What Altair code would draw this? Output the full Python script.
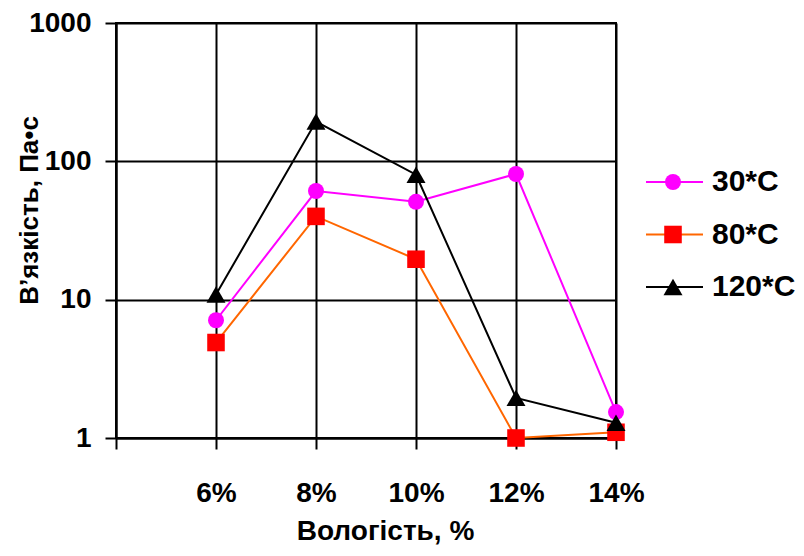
import altair as alt
import pandas as pd

moisture = [6, 8, 10, 12, 14]
series_names = ["30*C", "80*C", "120*C"]
visc_30 = [7.1, 61, 51, 81, 1.54]
visc_80 = [4.9, 40, 19.6, 1.0, 1.1]
visc_120 = [10.9, 194, 80, 1.95, 1.29]

line_colors = ["#FF00FF", "#FF6600", "#000000"]
marker_colors = ["#FF00FF", "#FF0000", "#000000"]
marker_shapes = ["circle", "square", "triangle-up"]
marker_sizes = [256, 361, 330]

rows = []
for name, vals in zip(series_names, [visc_30, visc_80, visc_120]):
    for m, v in zip(moisture, vals):
        rows.append({"series": name, "moisture": m, "visc": v})
df = pd.DataFrame(rows)
legend_df = pd.DataFrame({"series": series_names})

FONT = "Liberation Sans"

x_enc = alt.X(
    "moisture:Q",
    scale=alt.Scale(domain=[4, 14], nice=False, zero=False),
    axis=alt.Axis(
        values=[4, 6, 8, 10, 12, 14],
        labelExpr="datum.value == 4 ? '' : datum.value + '%'",
        title="Вологість, %",
        grid=True,
        tickSize=11,
        labelBaseline="alphabetic",
        labelPadding=52,
        labelFlush=False,
        labelOverlap=False,
        titleX=269,
        titleY=101,
        titleBaseline="alphabetic",
        titleAlign="center",
    ),
)
y_enc = alt.Y(
    "visc:Q",
    scale=alt.Scale(type="log", domain=[1, 1000], nice=False),
    axis=alt.Axis(
        values=[1, 10, 100, 1000],
        format="d",
        title="В’язкість, Па•с",
        grid=True,
        tickSize=11,
        labelPadding=14,
        labelFlush=False,
        labelOverlap=False,
        titleFontSize=26,
        titleX=-79,
        titleY=187,
        titleAngle=270,
        titleBaseline="alphabetic",
        titleAlign="center",
    ),
)
color_enc = alt.Color("series:N", scale=alt.Scale(domain=series_names, range=line_colors), legend=None)
fill_enc = alt.Fill("series:N", scale=alt.Scale(domain=series_names, range=marker_colors), legend=None)
shape_enc = alt.Shape("series:N", scale=alt.Scale(domain=series_names, range=marker_shapes), legend=None)
size_enc = alt.Size("series:O", scale=alt.Scale(domain=series_names, range=marker_sizes), legend=None)

lines = alt.Chart(df).mark_line(strokeWidth=2).encode(x=x_enc, y=y_enc, color=color_enc, detail="series:N")
points = alt.Chart(df).mark_point(filled=True, opacity=1, strokeWidth=0).encode(
    x=x_enc, y=y_enc, fill=fill_enc, shape=shape_enc, size=size_enc
)
plot = alt.layer(lines, points)

leg_y = alt.Y(
    "series:N",
    scale=alt.Scale(type="point", domain=series_names, range=[159, 264], padding=0),
    axis=None,
)
leg_rule = alt.Chart(legend_df).mark_rule(strokeWidth=2).encode(
    x=alt.value(530), x2=alt.value(587), y=leg_y, color=color_enc
)
leg_pt = alt.Chart(legend_df).mark_point(filled=True, opacity=1, strokeWidth=0).encode(
    x=alt.value(557), y=leg_y, fill=fill_enc, shape=shape_enc, size=size_enc
)
leg_txt = alt.Chart(legend_df).mark_text(
    align="left", baseline="middle", font=FONT, fontSize=30, fontWeight="bold"
).encode(x=alt.value(596), y=leg_y, text="series:N")
legend = alt.layer(leg_rule, leg_pt, leg_txt)

chart = (
    alt.layer(plot, legend)
    .resolve_scale(y="independent")
    .properties(
        width=500,
        height=415,
        autosize=alt.AutoSizeParams(type="none"),
        padding={"left": 108, "top": 15, "right": 180, "bottom": 110},
        background="white",
    )
    .configure_view(stroke="black", strokeWidth=2)
    .configure_axis(
        domainColor="black",
        domainWidth=2,
        gridColor="black",
        gridWidth=2,
        gridOpacity=1,
        tickColor="black",
        tickWidth=2,
        labelFont=FONT,
        labelFontSize=28,
        labelFontWeight="bold",
        labelColor="black",
        titleFont=FONT,
        titleFontSize=28,
        titleFontWeight="bold",
        titleColor="black",
    )
)

chart.save("out.html", embed_options={"renderer": "svg", "actions": False})
